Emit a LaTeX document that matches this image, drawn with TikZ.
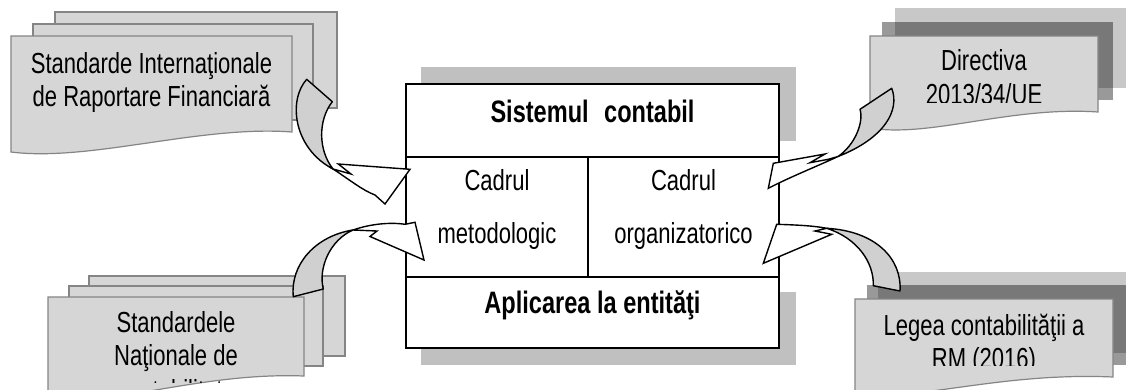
\documentclass[tikz,border=0pt]{standalone}
\usepackage{fontspec}
\setmainfont[FakeStretch=0.76]{Liberation Sans}
\definecolor{docfill}{HTML}{D6D6D6}
\definecolor{docedge}{HTML}{858585}
\definecolor{backfill}{HTML}{C8C8C8}
\definecolor{shadowfill}{HTML}{C0C0C0}
\definecolor{arrowfill}{HTML}{D0D0D0}
\tikzset{
  docsheet/.style={fill=docfill, draw=docedge, line width=1.2pt},
  backsheet/.style={fill=backfill},
  midsheet/.style={fill=black, fill opacity=0.4},
  shadowbox/.style={fill=shadowfill},
  cellbox/.style={fill=white, draw=black, line width=1.6pt},
  crescent/.style={fill=arrowfill, draw=black, line width=1.4pt, line join=round},
  headpart/.style={fill=white, draw=black, line width=1.4pt, line join=miter},
  txt/.style={anchor=base, inner sep=0pt, font=\fontsize{29}{34}\selectfont},
  btxt/.style={anchor=base, inner sep=0pt, font=\fontsize{31}{36}\selectfont\bfseries},
}
\begin{document}
\begin{tikzpicture}[x=1pt,y=-1pt]
\useasboundingbox (0,0) rectangle (1126,389);
\fill[white] (0,0) rectangle (1126,389);
\clip (0,0) rectangle (1126,389);

% ---------- top-left documents ----------
\draw[docsheet] (55,12) rectangle (337,108);
\draw[docsheet] (33,24) rectangle (313,120);
\draw[docsheet] (11,36) -- (292,36) -- (292,132) .. controls (200,125) and (90,162) .. (11,152) -- cycle;
\node[txt] (ifrs1) at (151.5,73) {Standarde Internaţionale};
\node[txt] (ifrs2) at (151.5,106) {de Raportare Financiară};

% ---------- top-right documents ----------
\fill[backsheet] (895,8) rectangle (1130,88);
\fill[midsheet] (882,22) rectangle (1113,100);
\draw[docsheet] (870,36) -- (1098,36) -- (1098,112) .. controls (1010,106) and (930,138) .. (870,128) -- cycle;
\node[txt] (dir1) at (984,70.7) {Directiva};
\begin{scope}
\clip (860,75) rectangle (1110,102.5);
\node[txt] (dir2) at (984,104) {2013/34/UE};
\end{scope}

% ---------- bottom-left documents ----------
\draw[docsheet] (89,276) rectangle (345,356);
\draw[docsheet] (69,286) rectangle (323,366);
\draw[docsheet] (48,297) -- (304,297) -- (304,376) .. controls (200,372) and (110,408) .. (48,398) -- cycle;
\node[txt] (snc1) at (176,332) {Standardele};
\node[txt] (snc2) at (176,365) {Naţionale de};
\begin{scope}
\clip (50,370) rectangle (300,382.5);
\node[txt] (snc3) at (176,400) {contabilitate};
\end{scope}

% ---------- bottom-right documents ----------
\fill[backsheet] (878,272) rectangle (1130,353);
\fill[midsheet] (867,285) rectangle (1130,365);
\draw[docsheet] (855,299) -- (1113,299) -- (1113,377) .. controls (1000,372) and (915,402) .. (855,394) -- cycle;
\node[txt] (lege1) at (984,335) {Legea contabilităţii a};
\begin{scope}
\clip (860,340) rectangle (1110,365);
\node[txt] (lege2) at (984,368) {RM (2016)};
\end{scope}

% ---------- central block ----------
\fill[shadowbox] (421,67) rectangle (796,141);
\fill[shadowbox] (421,292) rectangle (796,365);
\draw[cellbox] (406,84) rectangle (779,157);
\draw[cellbox] (406,157) rectangle (588,277);
\draw[cellbox] (588,157) rectangle (779,277);
\draw[cellbox] (406,277) rectangle (779,348);
\node[btxt] (sys) at (592.5,122) {Sistemul\hspace{0.5em}contabil};
\node[txt] (met1) at (497,190) {Cadrul};
\node[txt] (met2) at (497,243.3) {metodologic};
\node[txt] (org1) at (683.5,190) {Cadrul};
\node[txt] (org2) at (683.5,243.3) {organizatorico};
\node[btxt] (apl) at (592.5,313.3) {Aplicarea la entităţi};

% ---------- curved arrow 1 (IFRS -> methodological) ----------
\coordinate (j1) at (333,169);
\draw[crescent] (306.7,79.3) -- (332.3,101.7) .. controls (318,120) and (318,150) .. (j1)
  .. controls (293,148) and (288,100) .. (306.7,79.3) -- cycle;
\draw[headpart] (j1) .. controls (350,180) and (362,190) .. (375,195) -- (385,204) -- (410,169.3)
  -- (338.3,164) -- (351,174) -- cycle;

% ---------- curved arrow 2 (SNC -> methodological) ----------
\coordinate (j2) at (353,230);
\draw[crescent] (293.3,296.7) -- (323.3,289) .. controls (318,268) and (330,240) .. (j2)
  .. controls (315,236) and (290,265) .. (293.3,296.7) -- cycle;
\draw[headpart] (j2) .. controls (370,224) and (390,222) .. (405,224.3) -- (415,222.3) -- (424,260)
  -- (370,236.5) -- (377,231) -- cycle;

% ---------- curved arrow 3 (Directiva -> organizational) ----------
\coordinate (j3) at (838,156.5);
\draw[crescent] (860,109.3) -- (891.7,88.3) .. controls (900,110) and (885,138) .. (j3)
  .. controls (855,145) and (864,122) .. (860,109.3) -- cycle;
\draw[headpart] (j3) .. controls (820,165) and (790,177) .. (768.3,188.3) -- (773.3,163.3) -- (825,154)
  -- (810,162.7) -- (828.3,159.3) -- cycle;

% ---------- curved arrow 4 (Legea -> organizational) ----------
\coordinate (j4) at (826.7,228.3);
\draw[crescent] (873.3,285.7) -- (900,291) .. controls (902,258) and (875,231) .. (j4)
  .. controls (857,238) and (874,262) .. (873.3,285.7) -- cycle;
\draw[headpart] (j4) .. controls (815,226) and (800,225) .. (776.7,224.3) -- (763.3,263.3) -- (831.7,234.3)
  -- (815,231) -- cycle;
\end{tikzpicture}
\end{document}
